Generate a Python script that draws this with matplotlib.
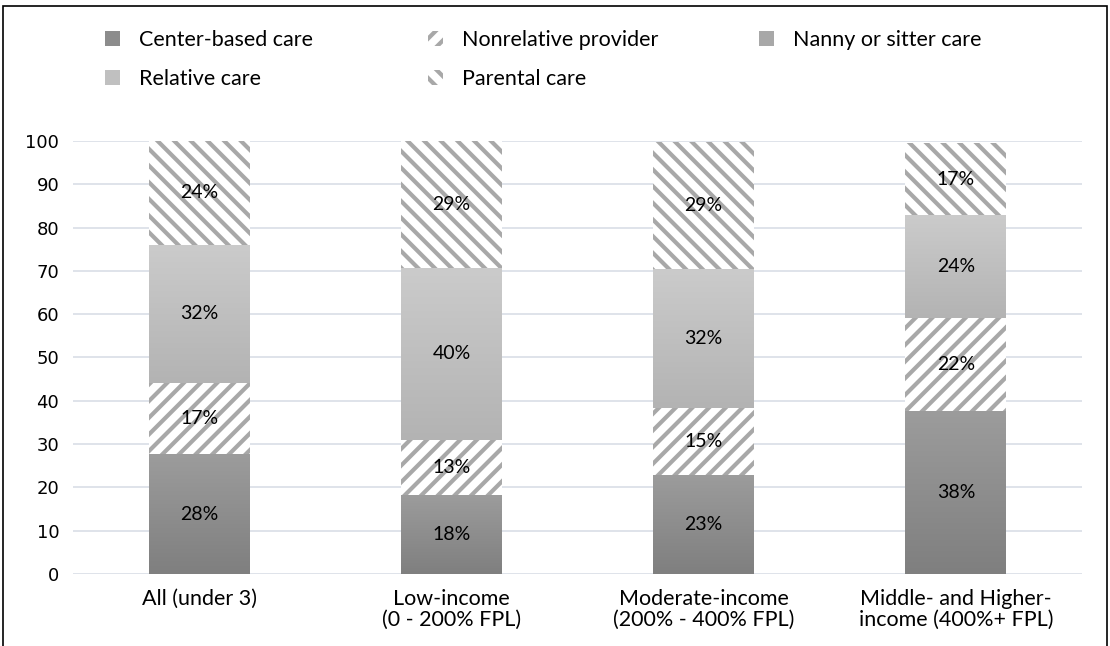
import numpy as np
import matplotlib.pyplot as plt
from matplotlib.colors import LinearSegmentedColormap
from matplotlib.patches import Patch, Rectangle

# data
groups = ["All (under 3)", "Low-income\n(0 - 200% FPL)",
          "Moderate-income\n(200% - 400% FPL)", "Middle- and Higher-\nincome (400%+ FPL)"]
center = [27.6, 18.2, 22.9, 37.6]
nonrel = [16.6, 12.8, 15.4, 21.6]
nanny = [0, 0, 0, 0]
relative = [31.8, 39.7, 32.1, 23.7]
parental = [24.0, 29.3, 29.4, 16.6]

plt.rcParams["hatch.linewidth"] = 3.0
lab_font = "Lato"

fig = plt.figure(figsize=(11.1, 6.46), dpi=100)
ax = fig.add_axes([0.0658, 0.1115, 0.909, 0.6703])

x = np.arange(len(groups))
w = 0.4
hatch_col = "#a8a8a8"


def gradient_fill(bars, c_bottom, c_top):
    cmap = LinearSegmentedColormap.from_list("g", [c_bottom, c_top])
    grad = np.linspace(0, 1, 256).reshape(-1, 1)
    for b in bars:
        if b.get_height() <= 0:
            continue
        x0, y0 = b.get_x(), b.get_y()
        im = ax.imshow(grad, extent=[x0, x0 + b.get_width(), y0, y0 + b.get_height()],
                       origin="lower", cmap=cmap, aspect="auto", zorder=2)
        im.set_clip_path(b)
        b.set_facecolor("none")


bottom = np.zeros(len(groups))
b1 = ax.bar(x, center, w, bottom=bottom, linewidth=0, zorder=2)
gradient_fill(b1, "#7f7f7f", "#9c9c9c")
bottom += center
b2 = ax.bar(x, nonrel, w, bottom=bottom, color="white", edgecolor=hatch_col,
            hatch="//", linewidth=0, zorder=2)
bottom += nonrel
b3 = ax.bar(x, nanny, w, bottom=bottom, linewidth=0, zorder=2)
gradient_fill(b3, "#999999", "#b5b5b5")
bottom += nanny
b4 = ax.bar(x, relative, w, bottom=bottom, linewidth=0, zorder=2)
gradient_fill(b4, "#b3b3b3", "#cbcbcb")
bottom += relative
b5 = ax.bar(x, parental, w, bottom=bottom, color="white", edgecolor=hatch_col,
            hatch="\\\\", linewidth=0, zorder=2)

for bars, vals in [(b1, center), (b2, nonrel), (b4, relative), (b5, parental)]:
    for b, v in zip(bars, vals):
        ax.text(b.get_x() + b.get_width() / 2, b.get_y() + b.get_height() / 2,
                f"{v:.0f}%", ha="center", va="center", fontsize=14,
                family=lab_font, color="black", zorder=5)

ax.set_xlim(-0.5, 3.5)
ax.set_ylim(0, 100)
ax.set_yticks(range(0, 101, 10))
ax.set_xticks(x)
ax.set_xticklabels(groups, family=lab_font, fontsize=15.5, linespacing=1.05)
ax.tick_params(axis="y", length=0, pad=10, labelsize=13)
ax.tick_params(axis="x", length=0, pad=11)
for s in ax.spines.values():
    s.set_visible(False)
ax.yaxis.grid(True, color="#d9dee6", linewidth=1.2, zorder=0)
ax.set_axisbelow(True)

# legend, one column at a time
h_center = Patch(facecolor="#8c8c8c", linewidth=0)
h_rel = Patch(facecolor="#c0c0c0", linewidth=0)
h_nonrel = Patch(facecolor="white", edgecolor=hatch_col, hatch="//", linewidth=0)
h_par = Patch(facecolor="white", edgecolor=hatch_col, hatch="\\\\", linewidth=0)
h_nanny = Patch(facecolor="#a8a8a8", linewidth=0)
cols = [([h_center, h_rel], ["Center-based care", "Relative care"], 0.0868),
        ([h_nonrel, h_par], ["Nonrelative provider", "Parental care"], 0.3778),
        ([h_nanny], ["Nanny or sitter care"], 0.676)]
for hs, ls, xa in cols:
    fig.legend(hs, ls, loc="upper left", bbox_to_anchor=(xa, 0.9675), frameon=False,
               prop={"family": lab_font, "size": 15.5}, handlelength=0.7,
               handleheight=0.7, handletextpad=0.9, labelspacing=0.92,
               borderaxespad=0)

# outer frame
fig.add_artist(Rectangle((3 / 1110, -0.01), 1104 / 1110, 1.0007, transform=fig.transFigure,
                         fill=False, edgecolor="black", linewidth=1.2))

fig.savefig("out.png", dpi=100)
